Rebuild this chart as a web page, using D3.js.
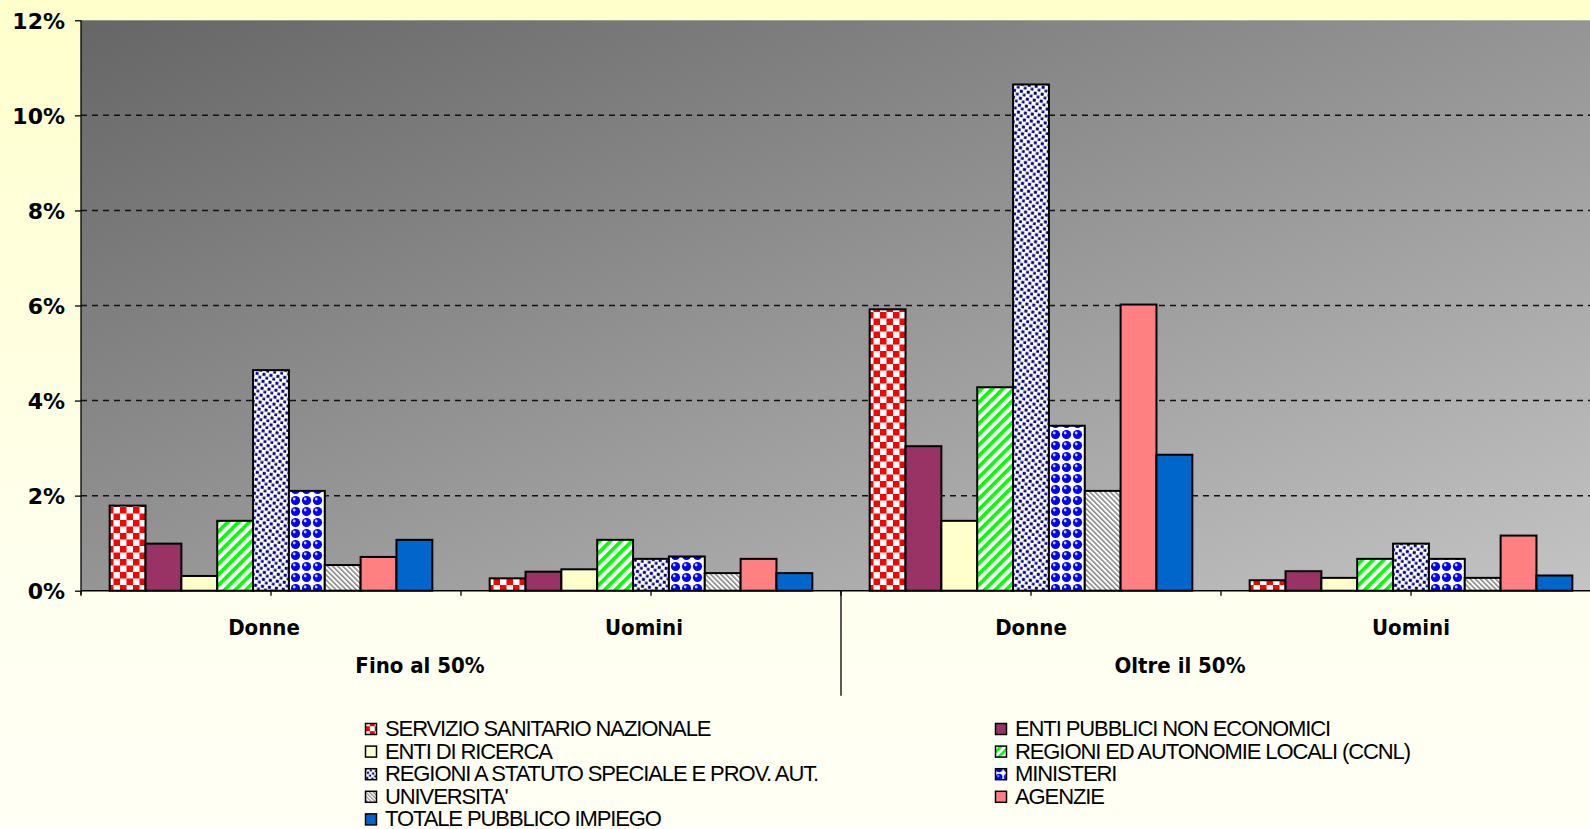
<!DOCTYPE html>
<meta charset="utf-8">
<title>Pubblico impiego</title>
<style>

body {
  margin: 0px;
  overflow: hidden;
}

.tick-label {
  font-family: "DejaVu Sans", sans-serif;
  font-weight: bold;
  font-size: 22px;
  fill: #000;
}

.cat-label {
  font-family: "DejaVu Sans Condensed", "DejaVu Sans", sans-serif;
  font-stretch: condensed;
  font-weight: bold;
  font-size: 22px;
  fill: #000;
}

.legend text {
  font-family: "Liberation Sans", Arial, sans-serif;
  font-size: 22px;
  letter-spacing: -1.1px;
  fill: #000;
}

.grid line {
  stroke: #111;
  stroke-width: 1.5;
  stroke-dasharray: 6,5;
}

.bar {
  stroke: #000;
  stroke-width: 2;
}

</style>

<script src="https://d3js.org/d3.v7.min.js"></script>

<body>

<script>

var width = 1590, height = 829;

// series (enti), in legend order
var series = [
  "SERVIZIO SANITARIO NAZIONALE",
  "ENTI PUBBLICI NON ECONOMICI",
  "ENTI DI RICERCA",
  "REGIONI ED AUTONOMIE LOCALI (CCNL)",
  "REGIONI A STATUTO SPECIALE E PROV. AUT.",
  "MINISTERI",
  "UNIVERSITA'",
  "AGENZIE",
  "TOTALE PUBBLICO IMPIEGO"
];

var groups = ["Fino al 50%", "Oltre il 50%"];
var sexes = ["Donne", "Uomini"];

// percentages, one per series
var finoDonne   = [1.79, 0.99, 0.31, 1.47, 4.64, 2.10, 0.54, 0.71, 1.07];
var finoUomini  = [0.26, 0.40, 0.45, 1.07, 0.67, 0.72, 0.37, 0.67, 0.37];
var oltreDonne  = [5.92, 3.04, 1.47, 4.28, 10.65, 3.47, 2.10, 6.02, 2.86];
var oltreUomini = [0.22, 0.41, 0.27, 0.67, 0.99, 0.67, 0.27, 1.16, 0.32];

var yTicks = [0, 2, 4, 6, 8, 10, 12];

var fills = ["url(#p-ssn)", "#993366", "#FFFFCC", "url(#p-reg)", "url(#p-rss)",
             "url(#p-min)", "url(#p-uni)", "#FF8080", "#0066CC"];
var legendFills = ["url(#l-ssn)", "#993366", "#FFFFCC", "url(#l-reg)", "url(#l-rss)",
                   "url(#l-min)", "url(#l-uni)", "#FF8080", "#0066CC"];

var columns = [
  { group: groups[0], sex: sexes[0], values: finoDonne },
  { group: groups[0], sex: sexes[1], values: finoUomini },
  { group: groups[1], sex: sexes[0], values: oltreDonne },
  { group: groups[1], sex: sexes[1], values: oltreUomini }
];

// plot area (runs past the right edge, like the original)
var plot = { left: 81, top: 20.3, width: 1520, bottom: 590.7 };

var svg = d3.select("body").append("svg")
    .attr("width", width)
    .attr("height", height);

var defs = svg.append("defs");

// page background
var bg = defs.append("linearGradient").attr("id", "bg")
    .attr("x1", 0).attr("y1", 0).attr("x2", 0).attr("y2", 1);
bg.append("stop").attr("offset", "0").attr("stop-color", "#FFFFCC");
bg.append("stop").attr("offset", "0.72").attr("stop-color", "#FFFFF0");
bg.append("stop").attr("offset", "1").attr("stop-color", "#FFFFF5");

// plot background
var pg = defs.append("linearGradient").attr("id", "plotbg")
    .attr("x1", 0).attr("y1", 0).attr("x2", 1).attr("y2", 1);
pg.append("stop").attr("offset", "0").attr("stop-color", "#666666");
pg.append("stop").attr("offset", "1").attr("stop-color", "#C4C4C4");

function makePatterns(prefix, k) {
  // checkerboard
  var p = defs.append("pattern").attr("id", prefix + "-ssn")
      .attr("patternUnits", "userSpaceOnUse")
      .attr("width", 13 * k).attr("height", 13 * k);
  p.append("rect").attr("width", 13 * k).attr("height", 13 * k).attr("fill", "#fff");
  p.append("rect").attr("width", 6.5 * k).attr("height", 6.5 * k).attr("fill", "#FF0000");
  p.append("rect").attr("x", 6.5 * k).attr("y", 6.5 * k)
      .attr("width", 6.5 * k).attr("height", 6.5 * k).attr("fill", "#FF0000");

  // green diagonal stripes
  p = defs.append("pattern").attr("id", prefix + "-reg")
      .attr("patternUnits", "userSpaceOnUse")
      .attr("width", 7.6 * k).attr("height", 7.6 * k)
      .attr("patternTransform", "rotate(45)");
  p.append("rect").attr("width", 7.6 * k).attr("height", 7.6 * k).attr("fill", "#fff");
  p.append("rect").attr("width", 3.6 * k).attr("height", 7.6 * k).attr("fill", "#00FF00");

  // navy dots
  p = defs.append("pattern").attr("id", prefix + "-rss")
      .attr("patternUnits", "userSpaceOnUse")
      .attr("width", 7 * k).attr("height", 7 * k)
      .attr("patternTransform", "rotate(8)");
  p.append("rect").attr("width", 7 * k).attr("height", 7 * k).attr("fill", "#fff");
  p.append("rect").attr("x", 0.8 * k).attr("y", 0.8 * k)
      .attr("width", 3 * k).attr("height", 3 * k).attr("fill", "#000080");
  p.append("rect").attr("x", 4.3 * k).attr("y", 4.3 * k)
      .attr("width", 3 * k).attr("height", 3 * k).attr("fill", "#000080");

  // blue spheres
  p = defs.append("pattern").attr("id", prefix + "-min")
      .attr("patternUnits", "userSpaceOnUse")
      .attr("width", 11 * k).attr("height", 11 * k);
  p.append("rect").attr("width", 11 * k).attr("height", 11 * k).attr("fill", "#fff");
  p.append("circle").attr("cx", 5.5 * k).attr("cy", 5.5 * k).attr("r", 4.6 * k).attr("fill", "#0000FF");
  p.append("circle").attr("cx", 4.2 * k).attr("cy", 4 * k).attr("r", 1.4 * k).attr("fill", "#c8d0ff");

  // gray fine hatch
  p = defs.append("pattern").attr("id", prefix + "-uni")
      .attr("patternUnits", "userSpaceOnUse")
      .attr("width", 3.6 * k).attr("height", 3.6 * k)
      .attr("patternTransform", "rotate(-45)");
  p.append("rect").attr("width", 3.6 * k).attr("height", 3.6 * k).attr("fill", "#fff");
  p.append("rect").attr("width", 1.6 * k).attr("height", 3.6 * k).attr("fill", "#8a8a8a");
}

makePatterns("p", 1);
makePatterns("l", 0.75);

svg.append("rect")
    .attr("width", width)
    .attr("height", height)
    .attr("fill", "url(#bg)");

// scales
var y = d3.scaleLinear()
    .domain([0, 12])
    .range([plot.bottom, plot.top]);

var x0 = d3.scaleBand()
    .domain(d3.range(columns.length))
    .range([plot.left, plot.left + plot.width])
    .padding(0);

var x1 = d3.scaleBand()
    .domain(d3.range(series.length))
    .range([0, x0.bandwidth()])
    .paddingInner(0)
    .paddingOuter(0.8);

svg.append("rect")
    .attr("x", plot.left)
    .attr("y", plot.top)
    .attr("width", plot.width)
    .attr("height", plot.bottom - plot.top)
    .attr("fill", "url(#plotbg)");

// dashed gridlines
svg.append("g")
    .attr("class", "grid")
  .selectAll("line")
    .data(yTicks.filter(function(d) { return d > 0 && d < 12; }))
  .enter().append("line")
    .attr("x1", plot.left)
    .attr("x2", plot.left + plot.width)
    .attr("y1", function(d) { return y(d); })
    .attr("y2", function(d) { return y(d); });

// bars
var col = svg.selectAll("g.col")
    .data(columns)
  .enter().append("g")
    .attr("class", "col")
    .attr("transform", function(d, i) { return "translate(" + x0(i) + ",0)"; });

col.selectAll("rect")
    .data(function(d) { return d.values; })
  .enter().append("rect")
    .attr("class", "bar")
    .attr("x", function(d, i) { return x1(i); })
    .attr("y", function(d) { return y(d); })
    .attr("width", x1.bandwidth())
    .attr("height", function(d) { return y(0) - y(d); })
    .attr("fill", function(d, i) { return fills[i]; });

// y axis
var yAxis = d3.axisLeft(y)
    .tickValues(yTicks)
    .tickSize(6)
    .tickPadding(10)
    .tickFormat(function(d) { return d + "%"; });

var ya = svg.append("g")
    .attr("transform", "translate(" + plot.left + ",0)")
    .call(yAxis);
ya.select(".domain").attr("stroke", "#000").attr("stroke-width", 1.3)
    .attr("d", "M0," + plot.top + "V" + (plot.bottom + 4));
ya.selectAll(".tick line").attr("stroke", "#000").attr("stroke-width", 1.3);
ya.selectAll(".tick text")
    .attr("class", "tick-label")
    .attr("dy", "0.36em");
ya.attr("font-family", null).attr("font-size", null);

// x axis line and ticks every half column
svg.append("line")
    .attr("x1", plot.left).attr("x2", plot.left + plot.width)
    .attr("y1", plot.bottom).attr("y2", plot.bottom)
    .attr("stroke", "#000").attr("stroke-width", 1.5);

var halfTicks = d3.range(columns.length * 2 + 1).map(function(i) {
  return plot.left + i * x0.bandwidth() / 2;
});

svg.append("g").selectAll("line")
    .data(halfTicks)
  .enter().append("line")
    .attr("x1", function(d) { return d; })
    .attr("x2", function(d) { return d; })
    .attr("y1", plot.bottom)
    .attr("y2", plot.bottom + 5)
    .attr("stroke", "#000").attr("stroke-width", 1.3);

// separator between the two groups
svg.append("line")
    .attr("x1", x0(2)).attr("x2", x0(2))
    .attr("y1", plot.bottom).attr("y2", plot.bottom + 105)
    .attr("stroke", "#000").attr("stroke-width", 1.3);

// category labels
svg.append("g").selectAll("text")
    .data(columns)
  .enter().append("text")
    .attr("class", "cat-label")
    .attr("text-anchor", "middle")
    .attr("x", function(d, i) { return x0(i) + x0.bandwidth() / 2 - (i < 2 ? 7 : 0); })
    .attr("y", 635)
    .text(function(d) { return d.sex; });

svg.append("g").selectAll("text")
    .data(groups)
  .enter().append("text")
    .attr("class", "cat-label")
    .attr("text-anchor", "middle")
    .attr("x", function(d, i) { return x0(i * 2) + x0.bandwidth() - 41; })
    .attr("y", 673)
    .text(function(d) { return d; });

// legend, two columns, row-major
var legend = svg.append("g").attr("class", "legend");

var item = legend.selectAll("g")
    .data(series)
  .enter().append("g")
    .attr("transform", function(d, i) {
      return "translate(" + (i % 2 ? 995 : 365) + "," + (736 + Math.floor(i / 2) * 22.6) + ")";
    });

item.append("rect")
    .attr("x", 0.5)
    .attr("y", -12.5)
    .attr("width", 11)
    .attr("height", 11)
    .attr("stroke", "#000")
    .attr("stroke-width", 1.5)
    .attr("fill", function(d, i) { return legendFills[i]; });

item.append("text")
    .attr("x", 20)
    .attr("y", 0)
    .text(function(d) { return d; });

</script>
